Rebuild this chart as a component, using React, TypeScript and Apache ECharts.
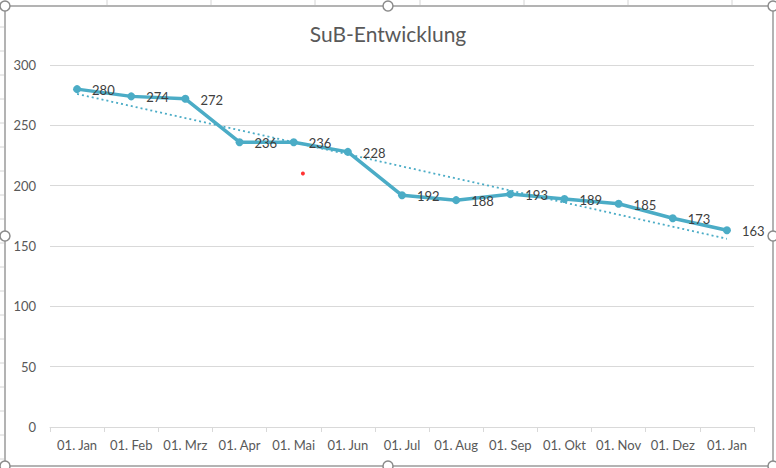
import React, { useEffect, useRef } from "react";
import * as echarts from "echarts";

const categories = ["01. Jan", "01. Feb", "01. Mrz", "01. Apr", "01. Mai", "01. Jun", "01. Jul", "01. Aug", "01. Sep", "01. Okt", "01. Nov", "01. Dez", "01. Jan"];
const values = [280, 274, 272, 236, 236, 228, 192, 188, 193, 189, 185, 173, 163];
// trendline endpoints: [categoryIndex, value]
const trendPoints = [[0, 276], [12, 156]];
// stray red point: [categoryPosition, value]
const strayPoint = [[4.17, 210]];
const yTicks = { min: 0, max: 300, interval: 50 };

export default function App() {
  const ref = useRef<HTMLDivElement>(null);
  useEffect(() => {
    document.body.style.margin = "0";
    const chart = echarts.init(ref.current!, null, { renderer: "svg" });
    const font = "Lato, 'Open Sans', sans-serif";
    const gray = "#595959";
    const outside: any[] = [];
    for (let y = 3; y < 468; y += 24) {
      outside.push({ type: "line", shape: { x1: 0, y1: y, x2: 4, y2: y }, style: { stroke: "#d4d4d4", lineWidth: 1 }, silent: true });
    }
    [107, 211, 315, 420, 524, 628, 732].forEach((x) => {
      outside.push({ type: "line", shape: { x1: x, y1: 0, x2: x, y2: 5 }, style: { stroke: "#d4d4d4", lineWidth: 1 }, silent: true });
    });
    const handles: any[] = [];
    [[5, 6], [388, 6], [773, 6], [5, 236], [773, 236], [5, 466], [388, 466], [773, 466]].forEach(([cx, cy]) => {
      handles.push({ type: "circle", shape: { cx, cy, r: 5 }, style: { fill: "#fff", stroke: "#8c8c8c", lineWidth: 1.5 }, z: 100 });
    });
    chart.setOption({
      animation: false,
      backgroundColor: "#fff",
      title: {
        text: "SuB-Entwicklung",
        left: "center",
        top: 18,
        textStyle: { fontFamily: font, fontSize: 21, fontWeight: "normal", color: gray },
      },
      grid: { left: 50, right: 22, top: 65, bottom: 41 },
      xAxis: [
        {
          type: "category",
          data: categories,
          boundaryGap: true,
          axisLine: { lineStyle: { color: "#d9d9d9", width: 1 } },
          axisTick: { show: true, length: 5, lineStyle: { color: "#d9d9d9" } },
          axisLabel: { fontFamily: font, fontSize: 13, color: gray, margin: 11, interval: 0 },
          splitLine: { show: false },
        },
        {
          type: "value",
          min: -0.5,
          max: 12.5,
          show: false,
          position: "bottom",
          splitLine: { show: false },
        },
      ],
      yAxis: {
        type: "value",
        min: yTicks.min,
        max: yTicks.max,
        interval: yTicks.interval,
        axisLine: { show: false },
        axisTick: { show: false },
        axisLabel: { fontFamily: font, fontSize: 13, color: gray, margin: 14 },
        splitLine: { lineStyle: { color: "#d9d9d9", width: 1 } },
      },
      series: [
        {
          type: "line",
          data: trendPoints,
          symbol: "none",
          lineStyle: { color: "#4bacc6", width: 1.8, type: [2, 3] },
          z: 1,
          silent: true,
        },
        {
          type: "line",
          data: values,
          symbol: "circle",
          symbolSize: 8,
          itemStyle: { color: "#4bacc6" },
          lineStyle: { color: "#4bacc6", width: 3.5 },
          label: {
            show: true,
            position: "right",
            distance: 11,
            fontFamily: font,
            fontSize: 13,
            color: "#404040",
            offset: [0, 1],
          },
          z: 3,
        },
        {
          type: "scatter",
          xAxisIndex: 1,
          data: strayPoint,
          symbol: "circle",
          symbolSize: 4,
          itemStyle: { color: "#ff0000" },
          z: 4,
        },
      ],
      graphic: [
        ...outside,
        { type: "rect", shape: { x: 5, y: 6, width: 768, height: 460 }, style: { fill: "none", stroke: "#9a9a9a", lineWidth: 1.5 }, z: 99, silent: true },
        ...handles,
      ],
    });
    return () => chart.dispose();
  }, []);
  return <div ref={ref} style={{ width: 776, height: 468 }} />;
}
